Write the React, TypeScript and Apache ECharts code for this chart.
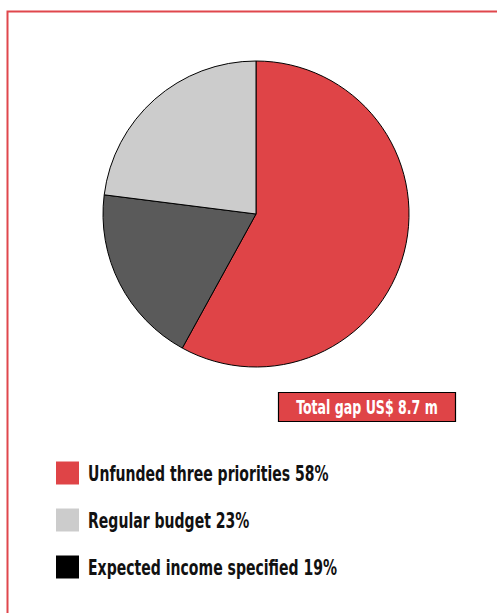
import React, { useEffect, useRef } from "react";
import * as echarts from "echarts";

const categories = ["Unfunded three priorities", "Expected income specified", "Regular budget"];
const values = [58, 19, 23];
const sliceColors = ["#df4447", "#5a5a5a", "#cccccc"];
const legendOrder = ["Unfunded three priorities", "Regular budget", "Expected income specified"];
const legendColors = ["#df4447", "#cccccc", "#000000"];
const totalLabel = "Total gap US$ 8.7 m";

const FONT = "'DejaVu Sans Condensed', 'DejaVu Sans', sans-serif";

export default function App() {
  const ref = useRef<HTMLDivElement>(null);
  useEffect(() => {
    if (!ref.current) return;
    const chart = echarts.init(ref.current, null, { renderer: "svg" });
    const legendItems: any[] = [];
    legendOrder.forEach((name, i) => {
      const v = values[categories.indexOf(name)];
      const y = 473 + 47 * i;
      legendItems.push({
        type: "rect",
        shape: { x: 56, y: y - 11.5, width: 23, height: 23 },
        style: { fill: legendColors[i] },
      });
      legendItems.push({
        type: "text",
        x: 88,
        y: y,
        scaleX: 0.71,
        style: {
          text: `${name} ${v}%`,
          font: `bold 22px ${FONT}`,
          fill: "#111",
          verticalAlign: "middle",
          align: "left",
        },
      });
    });
    chart.setOption({
      animation: false,
      backgroundColor: "#ffffff",
      series: [
        {
          type: "pie",
          center: [256, 214],
          radius: 153,
          startAngle: 90,
          clockwise: true,
          silent: true,
          label: { show: false },
          labelLine: { show: false },
          itemStyle: { borderColor: "#000", borderWidth: 1 },
          data: categories.map((c, i) => ({ name: c, value: values[i], itemStyle: { color: sliceColors[i] } })),
        },
      ],
      graphic: [
        {
          type: "rect",
          z: -1,
          shape: { x: 7.5, y: 11.5, width: 600, height: 700 },
          style: { fill: "none", stroke: "#e0474c", lineWidth: 2 },
        },
        {
          type: "rect",
          shape: { x: 278.5, y: 392.5, width: 177, height: 29 },
          style: { fill: "#df4447", stroke: "#000", lineWidth: 1.2 },
        },
        {
          type: "text",
          x: 367,
          y: 407,
          scaleX: 0.7,
          style: {
            text: totalLabel,
            font: `bold 20px ${FONT}`,
            fill: "#fff",
            align: "center",
            verticalAlign: "middle",
          },
        },
        ...legendItems,
      ],
    });
    return () => chart.dispose();
  }, []);
  return <div ref={ref} style={{ position: "fixed", left: 0, top: 0, width: 497, height: 613 }} />;
}
